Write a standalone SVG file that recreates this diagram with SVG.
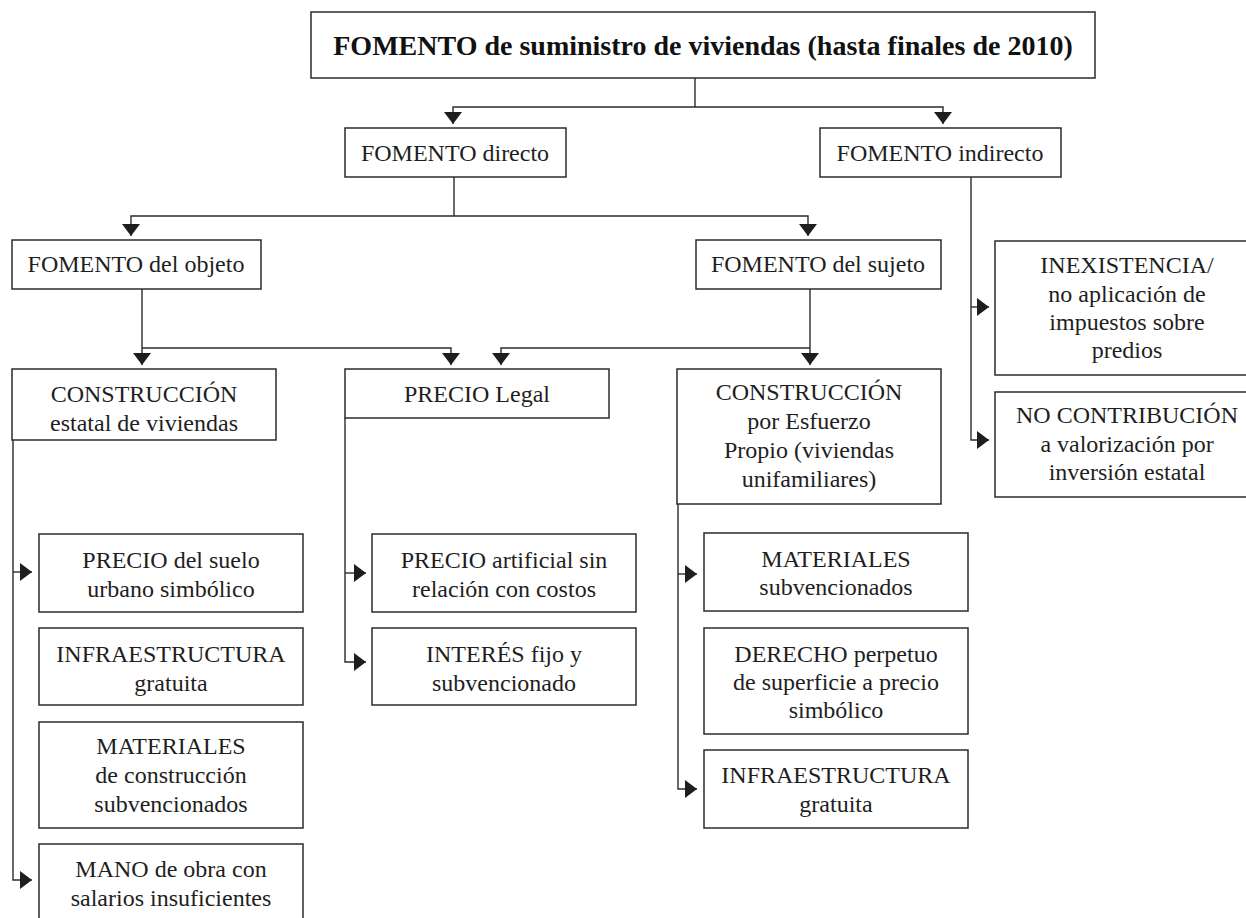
<svg xmlns="http://www.w3.org/2000/svg" width="1246" height="918" viewBox="0 0 1246 918">
<style>
.box{fill:#fff;stroke:#2b2b2b;stroke-width:1.5}
.t{font-family:"Liberation Serif","Times New Roman",serif;font-size:24px;fill:#1e1e1e;text-anchor:middle}
.title{font-family:"Liberation Serif","Times New Roman",serif;font-size:28px;font-weight:bold;fill:#111;text-anchor:middle}
.c{fill:none;stroke:#2b2b2b;stroke-width:1.4}
</style>
<defs>
<marker id="ah" markerUnits="userSpaceOnUse" markerWidth="14" markerHeight="20" refX="12" refY="9" orient="auto">
<path d="M0,0 L12,9 L0,18 z" fill="#1e1e1e"/>
</marker>
</defs>
<rect width="1246" height="918" fill="#fff"/>
<g id="connectors">
<path class="c" d="M695,78 V107"/>
<path class="c" d="M695,107 H453 V124" marker-end="url(#ah)"/>
<path class="c" d="M695,107 H943 V124" marker-end="url(#ah)"/>
<path class="c" d="M454,177 V216"/>
<path class="c" d="M454,216 H131 V236" marker-end="url(#ah)"/>
<path class="c" d="M454,216 H808 V236" marker-end="url(#ah)"/>
<path class="c" d="M142,289 V365" marker-end="url(#ah)"/>
<path class="c" d="M142,348 H451 V365" marker-end="url(#ah)"/>
<path class="c" d="M810,289 V365" marker-end="url(#ah)"/>
<path class="c" d="M810,348 H501 V365" marker-end="url(#ah)"/>
<path class="c" d="M971,177 V440 H989" marker-end="url(#ah)"/>
<path class="c" d="M971,307 H989" marker-end="url(#ah)"/>
<path class="c" d="M13,440 V880 H32" marker-end="url(#ah)"/>
<path class="c" d="M13,572 H32" marker-end="url(#ah)"/>
<path class="c" d="M345,418 V662 H366" marker-end="url(#ah)"/>
<path class="c" d="M345,573 H366" marker-end="url(#ah)"/>
<path class="c" d="M678,504 V789 H697" marker-end="url(#ah)"/>
<path class="c" d="M678,574 H697" marker-end="url(#ah)"/>
</g>
<g id="n-title"><rect class="box" x="311" y="12" width="784" height="66"/><text class="title" x="703" y="55">FOMENTO de suministro de viviendas (hasta finales de 2010)</text></g>
<g id="n-directo"><rect class="box" x="345" y="128" width="221" height="49"/><text class="t" x="455" y="161">FOMENTO directo</text></g>
<g id="n-indirecto"><rect class="box" x="820" y="128" width="241" height="49"/><text class="t" x="940" y="161">FOMENTO indirecto</text></g>
<g id="n-objeto"><rect class="box" x="12" y="240" width="249" height="49"/><text class="t" x="136" y="272">FOMENTO del objeto</text></g>
<g id="n-sujeto"><rect class="box" x="696" y="240" width="245" height="49"/><text class="t" x="818" y="272">FOMENTO del sujeto</text></g>
<g id="n-inexistencia"><rect class="box" x="995" y="241" width="265" height="134"/><text class="t" x="1127" y="273">INEXISTENCIA/</text><text class="t" x="1127" y="302">no aplicación de</text><text class="t" x="1127" y="330">impuestos sobre</text><text class="t" x="1127" y="358">predios</text></g>
<g id="n-nocontrib"><rect class="box" x="995" y="392" width="265" height="105"/><text class="t" x="1127" y="423">NO CONTRIBUCIÓN</text><text class="t" x="1127" y="452">a valorización por</text><text class="t" x="1127" y="480">inversión estatal</text></g>
<g id="n-constr-estatal"><rect class="box" x="12" y="369" width="264" height="71"/><text class="t" x="144" y="402">CONSTRUCCIÓN</text><text class="t" x="144" y="431">estatal de viviendas</text></g>
<g id="n-precio-legal"><rect class="box" x="345" y="369" width="264" height="49"/><text class="t" x="477" y="402">PRECIO Legal</text></g>
<g id="n-constr-propio"><rect class="box" x="677" y="369" width="264" height="135"/><text class="t" x="809" y="400">CONSTRUCCIÓN</text><text class="t" x="809" y="429">por Esfuerzo</text><text class="t" x="809" y="458">Propio (viviendas</text><text class="t" x="809" y="487">unifamiliares)</text></g>
<g id="n-precio-suelo"><rect class="box" x="39" y="534" width="264" height="78"/><text class="t" x="171" y="568">PRECIO del suelo</text><text class="t" x="171" y="597">urbano simbólico</text></g>
<g id="n-infra1"><rect class="box" x="39" y="628" width="264" height="77"/><text class="t" x="171" y="662">INFRAESTRUCTURA</text><text class="t" x="171" y="691">gratuita</text></g>
<g id="n-materiales1"><rect class="box" x="39" y="722" width="264" height="106"/><text class="t" x="171" y="754">MATERIALES</text><text class="t" x="171" y="783">de construcción</text><text class="t" x="171" y="812">subvencionados</text></g>
<g id="n-mano"><rect class="box" x="39" y="844" width="264" height="80"/><text class="t" x="171" y="877">MANO de obra con</text><text class="t" x="171" y="906">salarios insuficientes</text></g>
<g id="n-precio-artificial"><rect class="box" x="372" y="534" width="264" height="78"/><text class="t" x="504" y="568">PRECIO artificial sin</text><text class="t" x="504" y="597">relación con costos</text></g>
<g id="n-interes"><rect class="box" x="372" y="628" width="264" height="77"/><text class="t" x="504" y="662">INTERÉS fijo y</text><text class="t" x="504" y="691">subvencionado</text></g>
<g id="n-materiales2"><rect class="box" x="704" y="533" width="264" height="78"/><text class="t" x="836" y="567">MATERIALES</text><text class="t" x="836" y="595">subvencionados</text></g>
<g id="n-derecho"><rect class="box" x="704" y="628" width="264" height="106"/><text class="t" x="836" y="662">DERECHO perpetuo</text><text class="t" x="836" y="690">de superficie a precio</text><text class="t" x="836" y="718">simbólico</text></g>
<g id="n-infra2"><rect class="box" x="704" y="750" width="264" height="78"/><text class="t" x="836" y="783">INFRAESTRUCTURA</text><text class="t" x="836" y="812">gratuita</text></g>
</svg>
